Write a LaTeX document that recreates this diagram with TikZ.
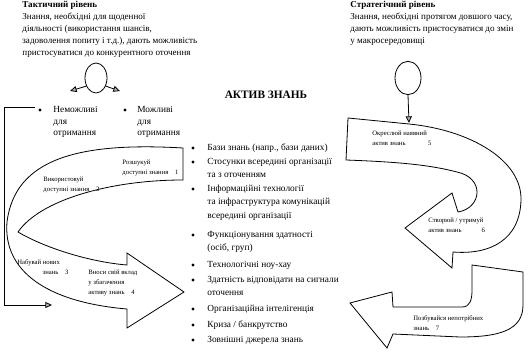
\documentclass[tikz,border=0pt]{standalone}
\usepackage{fontspec}
\setmainfont{Liberation Serif}
\usetikzlibrary{arrows.meta, shapes.geometric}

\begin{document}
\begin{tikzpicture}[x=0.75pt, y=-0.75pt, line width=0.6pt,
    tip/.style={-{Triangle[length=5pt,width=4.5pt,fill=gray!60]}},
    dot/.style={circle, fill, inner sep=0pt, minimum size=2.6pt},
    head/.style={anchor=north west, inner sep=0pt, align=left, font=\fontsize{6.8}{9}\selectfont},
    item/.style={anchor=north west, inner sep=0pt, align=left, font=\fontsize{7}{10}\selectfont},
    side/.style={anchor=north west, inner sep=0pt, align=left, font=\fontsize{7}{8.6}\selectfont},
    lbl/.style={anchor=north west, inner sep=0pt, align=left, font=\fontsize{5}{7.5}\selectfont}]
  \useasboundingbox (0,0) rectangle (528,352);

  % tactical level
  \node[head] (tact) at (22,1) {\textbf{Тактичний рівень}\\Знання, необхідні для щоденної\\діяльності (використання шансів,\\задоволення попиту і т.д.), дають можливість\\пристосуватися до конкурентного оточення};
  \node[draw, ellipse, minimum width=16.5pt, minimum height=22.5pt, inner sep=0pt] (tc) at (96,78) {};
  \coordinate (tcl) at (70,91);
  \coordinate (tcr) at (120,91);
  \draw[tip] (tc.-140) -- (tcl);
  \draw[tip] (tc.-40) -- (tcr);
  \node[dot] (dn) at (40,110) {};
  \node[dot] (dp) at (125,110) {};
  \node[side] (nimp) at (53,106) {Неможливі\\для\\отримання};
  \node[side] (npos) at (137,106) {Можливі\\для\\отримання};
  \coordinate (br1) at (35,107);
  \coordinate (br2) at (4,107);
  \coordinate (br3) at (4,305);
  \coordinate (br4) at (52,305);
  \draw[tip] (br1) -- (br2) -- (br3) -- (br4);

  % strategic level
  \node[head] (strat) at (350,1) {\textbf{Стратегічний рівень}\\Знання, необхідні протягом довшого часу,\\дають можливість пристосуватися до змін\\у макросередовищі};
  \node[draw, ellipse, minimum width=19.5pt, minimum height=25pt, inner sep=0pt] (sc) at (408,78) {};
  \coordinate (s5) at (409,123);
  \draw[tip] (sc.south) -- (s5);

  % knowledge asset
  \node[font=\bfseries\fontsize{8.5}{10}\selectfont] (title) at (266,95) {АКТИВ ЗНАНЬ};
  \foreach \y/\t [count=\i] in {148/{Бази знань (напр., бази даних)},
      162/{Стосунки всередині організації\\та з оточенням},
      189/{Інформаційні технології\\та інфраструктура комунікацій\\всередині організації},
      235/{Функціонування здатності\\(осіб, груп)},
      265/{Технологічні ноу-хау},
      280/{Здатність відповідати на сигнали\\оточення},
      309/{Організаційна інтелігенція},
      325/{Криза / банкрутство},
      340/{Зовнішні джерела знань}} {
    \node[dot] (b\i) at (193,\y) {};
    \node[item] (t\i) at (207,\y-4.5) {\t};
  }

  % left ribbon
  \draw (183,148) .. controls (80,142) and (15,158) .. (7,222)
        .. controls (3,270) and (45,302) .. (127,309) -- (127,328) -- (184,292) -- (127,253) -- (127,265)
        .. controls (90,262) and (45,248) .. (18,232)
        .. controls (40,200) and (110,180) .. (183,180) -- cycle;
  \node[lbl] (k1) at (122,160) {Розшукуй\\доступні знання\quad 1};
  \node[lbl] (k2) at (43,177) {Використовуй\\доступні знання\quad 2};
  \node[lbl] (k3) at (17,259) {Набувай нових\\\hspace*{19pt}знань\quad 3};
  \node[lbl] (k4) at (88,270) {Вноси свій вклад\\у збагачення\\активу знань\quad 4};

  % right ribbons
  \draw (348,118) -- (409,124) .. controls (470,130) and (522,160) .. (521,200)
        .. controls (520,240) and (490,255) .. (453,252) -- (452,268) -- (405,228) -- (452,193) -- (458,212)
        .. controls (482,208) and (485,178) .. (457,172)
        .. controls (430,165) and (400,162) .. (346,160) -- cycle;
  \node[lbl] (k5) at (372,131) {Окреслюй наявний\\актив знань\hspace{17pt}5};
  \node[lbl] (k6) at (428,218) {Створюй / утримуй\\актив знань\hspace{15pt}6};
  \draw (472,265) -- (523,272) -- (523,305) .. controls (523,330) and (500,337) .. (460,337)
        -- (393,334) -- (387,348) -- (350,303) -- (392,292) -- (393,307) -- (462,307)
        .. controls (470,307) and (472,300) .. (472,290) -- cycle;
  \node[lbl] (k7) at (413,315) {Позбувайся непотрібних\\знань\quad 7};
\end{tikzpicture}
\end{document}
